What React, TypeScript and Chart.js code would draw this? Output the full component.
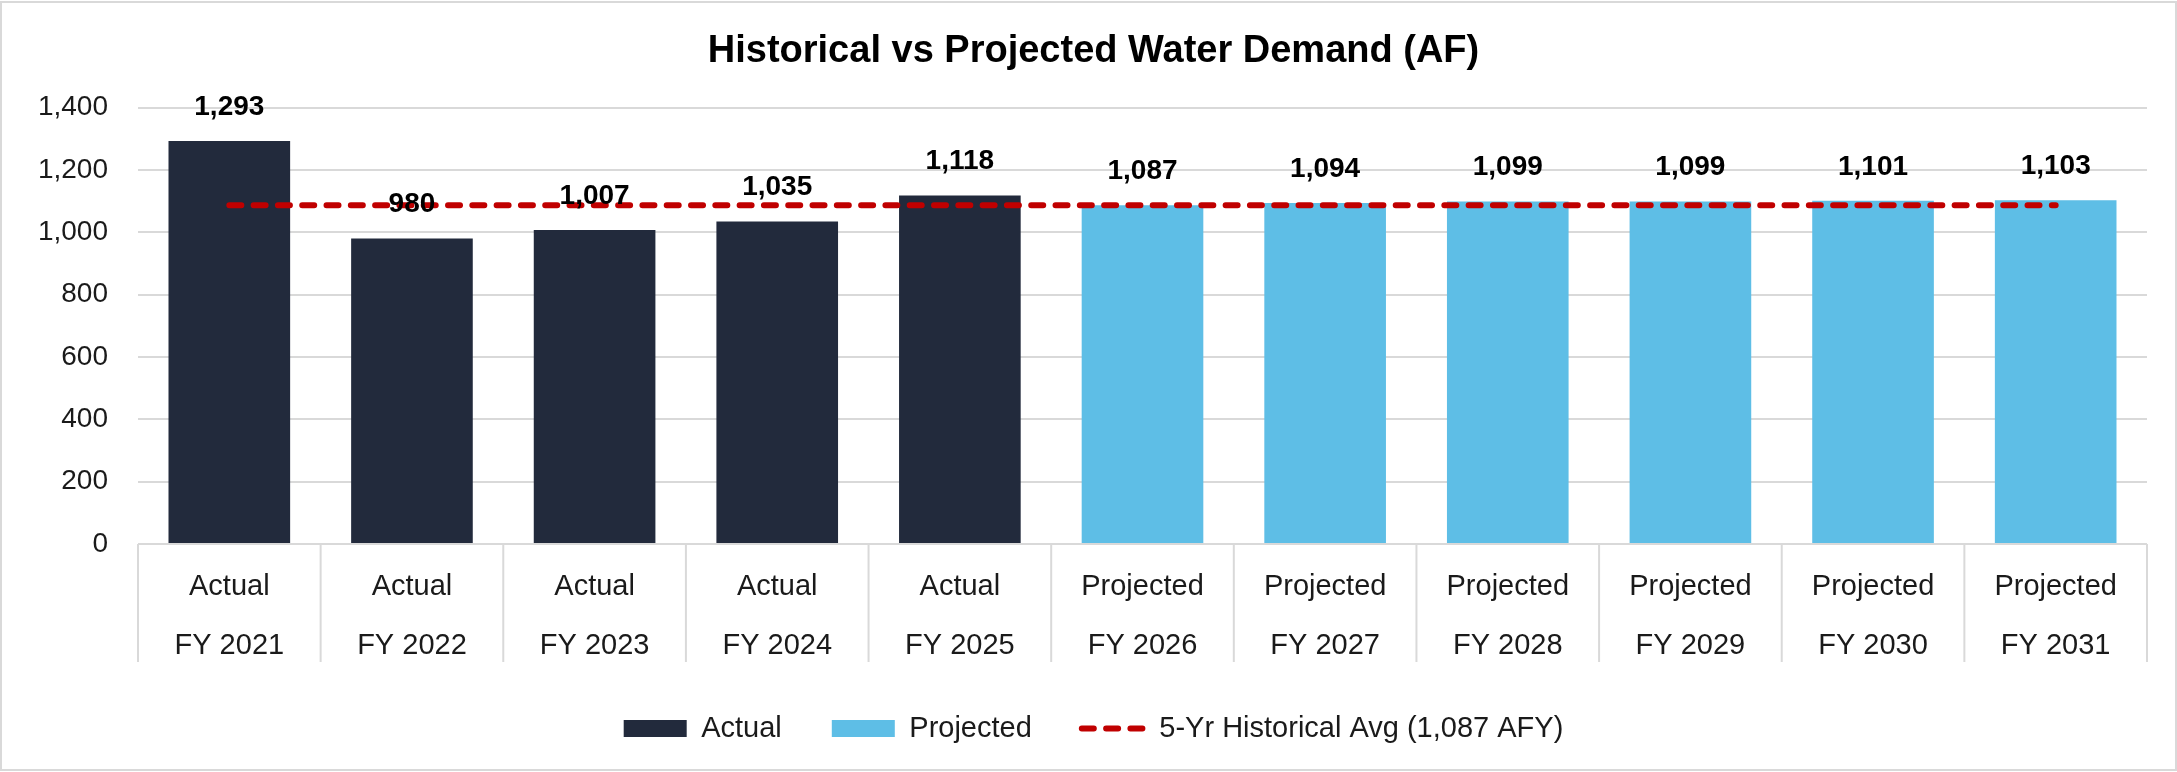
import React, { useEffect, useRef } from "react";
import { Chart, registerables } from "chart.js";

Chart.register(...registerables);

const fiscalYears = ["FY 2021", "FY 2022", "FY 2023", "FY 2024", "FY 2025", "FY 2026", "FY 2027", "FY 2028", "FY 2029", "FY 2030", "FY 2031"];
const groupNames = ["Actual", "Actual", "Actual", "Actual", "Actual", "Projected", "Projected", "Projected", "Projected", "Projected", "Projected"];
const actualValues: (number | null)[] = [1293, 980, 1007, 1035, 1118, null, null, null, null, null, null];
const projectedValues: (number | null)[] = [null, null, null, null, null, 1087, 1094, 1099, 1099, 1101, 1103];
const historicalAvgValues: number[] = [1087, 1087, 1087, 1087, 1087, 1087, 1087, 1087, 1087, 1087, 1087];
const yMin = 0;
const yMax = 1400;
const yStep = 200;

const titleText = "Historical vs Projected Water Demand (AF)";
const avgLabel = "5-Yr Historical Avg (1,087 AFY)";

const FONT = '"Liberation Sans", Arial, sans-serif';
const ACTUAL_COLOR = "#222A3C";
const PROJECTED_COLOR = "#5EBEE6";
const AVG_COLOR = "#C00000";
const GRID_COLOR = "#D9D9D9";
const TEXT_COLOR = "#1A1A1A";

const frameBorderPlugin = {
  id: "frameBorder",
  beforeDraw(chart: any) {
    const { ctx, width, height } = chart;
    ctx.save();
    ctx.fillStyle = "#FFFFFF";
    ctx.fillRect(0, 0, width, height);
    ctx.strokeStyle = GRID_COLOR;
    ctx.lineWidth = 2;
    ctx.strokeRect(1, 2, width - 2, height - 4);
    ctx.restore();
  },
};

const categorySeparatorPlugin = {
  id: "categorySeparators",
  afterDraw(chart: any) {
    const xScale = chart.scales.x;
    const { ctx, chartArea } = chart;
    const n = chart.data.labels.length;
    const half = (xScale.getPixelForValue(1) - xScale.getPixelForValue(0)) / 2;
    ctx.save();
    ctx.strokeStyle = GRID_COLOR;
    ctx.lineWidth = 2;
    for (let i = 0; i <= n; i++) {
      const x = i < n ? xScale.getPixelForValue(i) - half : xScale.getPixelForValue(n - 1) + half;
      ctx.beginPath();
      ctx.moveTo(x, chartArea.bottom);
      ctx.lineTo(x, chartArea.bottom + 118);
      ctx.stroke();
    }
    ctx.restore();
  },
};

const valueLabelPlugin = {
  id: "valueLabels",
  afterDatasetsDraw(chart: any) {
    const { ctx } = chart;
    ctx.save();
    ctx.font = `bold 28px ${FONT}`;
    ctx.fillStyle = "#000000";
    ctx.textAlign = "center";
    ctx.textBaseline = "middle";
    chart.data.datasets.forEach((ds: any, di: number) => {
      if (ds.type === "line") return;
      const meta = chart.getDatasetMeta(di);
      meta.data.forEach((el: any, i: number) => {
        const v = ds.data[i];
        if (v === null || v === undefined) return;
        ctx.fillText(Number(v).toLocaleString("en-US"), el.x, el.y - 34);
      });
    });
    ctx.restore();
  },
};

export default function App() {
  const canvasRef = useRef<HTMLCanvasElement | null>(null);

  useEffect(() => {
    if (!canvasRef.current) return;
    const labels = fiscalYears.map((fy, i) => [groupNames[i], fy]);
    const chart = new Chart(canvasRef.current, {
      type: "bar",
      data: {
        labels,
        datasets: [
          {
            type: "bar",
            label: "Actual",
            data: actualValues,
            backgroundColor: ACTUAL_COLOR,
            grouped: false,
            barPercentage: 0.666,
            categoryPercentage: 1,
          } as any,
          {
            type: "bar",
            label: "Projected",
            data: projectedValues,
            backgroundColor: PROJECTED_COLOR,
            grouped: false,
            barPercentage: 0.666,
            categoryPercentage: 1,
          } as any,
          {
            type: "line",
            label: avgLabel,
            data: historicalAvgValues,
            borderColor: AVG_COLOR,
            backgroundColor: AVG_COLOR,
            borderWidth: 6,
            borderDash: [12, 12.3],
            borderCapStyle: "round",
            pointRadius: 0,
            fill: false,
            order: -1,
          } as any,
        ],
      },
      options: {
        animation: false,
        responsive: false,
        layout: { padding: { top: 0, left: 40, right: 30, bottom: 19 } },
        plugins: {
          title: {
            display: true,
            text: titleText,
            color: "#000000",
            font: { family: FONT, size: 38, weight: "bold" },
            padding: { top: 29, bottom: 33 },
          },
          legend: {
            position: "bottom",
            labels: {
              usePointStyle: true,
              pointStyleWidth: 63,
              boxHeight: 17,
              padding: 50,
              color: TEXT_COLOR,
              font: { family: FONT, size: 29 },
              generateLabels: () => [
                { text: "Actual", fillStyle: ACTUAL_COLOR, strokeStyle: ACTUAL_COLOR, lineWidth: 0, pointStyle: "rect", hidden: false, datasetIndex: 0, fontColor: TEXT_COLOR },
                { text: "Projected", fillStyle: PROJECTED_COLOR, strokeStyle: PROJECTED_COLOR, lineWidth: 0, pointStyle: "rect", hidden: false, datasetIndex: 1, fontColor: TEXT_COLOR },
                { text: avgLabel, fillStyle: AVG_COLOR, strokeStyle: AVG_COLOR, lineWidth: 6, lineDash: [12, 12.3], lineCap: "round", pointStyle: "line", hidden: false, datasetIndex: 2, fontColor: TEXT_COLOR },
              ] as any,
            },
          },
          tooltip: { enabled: false },
        },
        scales: {
          x: {
            grid: { display: false, drawTicks: false },
            border: { display: false },
            ticks: {
              color: TEXT_COLOR,
              font: { family: FONT, size: 29, lineHeight: 2.03 },
              padding: 14,
              maxRotation: 0,
              autoSkip: false,
            },
            afterFit: (scale: any) => {
              scale.height = 120;
            },
          },
          y: {
            min: yMin,
            max: yMax,
            grid: { color: GRID_COLOR, lineWidth: 2, drawTicks: false },
            border: { display: false },
            ticks: {
              stepSize: yStep,
              padding: 30,
              color: TEXT_COLOR,
              font: { family: FONT, size: 28 },
              callback: (v: any) => Number(v).toLocaleString("en-US"),
            },
            afterFit: (scale: any) => {
              scale.width = 98;
            },
          },
        },
      } as any,
      plugins: [frameBorderPlugin, categorySeparatorPlugin, valueLabelPlugin],
    });
    return () => chart.destroy();
  }, []);

  return (
    <div style={{ position: "absolute", left: 0, top: 0, width: 2177, height: 772 }}>
      <canvas ref={canvasRef} width={2177} height={772} />
    </div>
  );
}
